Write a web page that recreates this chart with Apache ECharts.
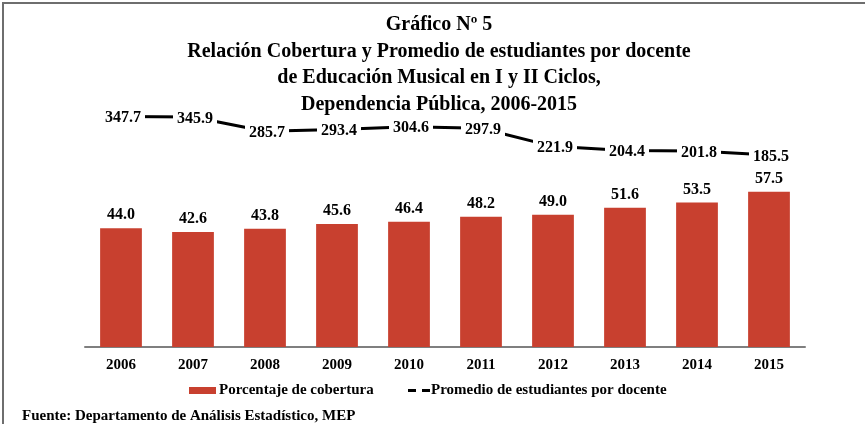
<!DOCTYPE html>
<html>
<head>
<meta charset="utf-8">
<script src="https://cdn.jsdelivr.net/npm/echarts@6/dist/echarts.min.js"></script>
<style>
html,body{margin:0;padding:0;background:#fff;}
#chart{width:865px;height:424px;}
</style>
</head>
<body>
<div id="chart"></div>
<script>
const years = ['2006','2007','2008','2009','2010','2011','2012','2013','2014','2015'];
const cobertura = [44.0, 42.6, 43.8, 45.6, 46.4, 48.2, 49.0, 51.6, 53.5, 57.5];
const promedio = [347.7, 345.9, 285.7, 293.4, 304.6, 297.9, 221.9, 204.4, 201.8, 185.5];
const titleLines = ['Gráfico Nº 5','Relación Cobertura y Promedio de estudiantes por docente','de Educación Musical en I y II Ciclos,','Dependencia Pública, 2006-2015'];
const source = 'Fuente: Departamento de Análisis Estadístico, MEP';
const nameBar = 'Porcentaje de cobertura';
const nameLine = 'Promedio de estudiantes por docente';

const FONT = '"Liberation Serif","Times New Roman",serif';
const chart = echarts.init(document.getElementById('chart'));
chart.setOption({
  animation: false,
  backgroundColor: '#fff',
  title: {
    text: titleLines.join('\n'),
    left: 434, top: 7, textAlign: 'center',
    textStyle: {fontFamily: FONT, fontWeight: 'bold', fontSize: 20, lineHeight: 26.5, color: '#000'}
  },
  graphic: [
    {type:'polyline', shape:{points:[[3,430],[3,3],[870,3]]}, style:{stroke:'#6e6e6e', lineWidth:2, fill:null}},
    {type:'text', left: 22, top: 409, style:{text: source, font: 'bold 15px ' + FONT, fill:'#000'}}
  ],
  legend: [
    {
      left: 184, top: 378, itemWidth: 27, itemHeight: 7,
      textStyle: {fontFamily: FONT, fontWeight: 'bold', fontSize: 15, color: '#000', padding: [0,0,0,-2]},
      data: [{name: nameBar, icon: 'rect'}]
    },
    {
      left: 403, top: 378, itemWidth: 22, itemHeight: 3, itemGap: 0,
      textStyle: {fontFamily: FONT, fontWeight: 'bold', fontSize: 15, color: '#000', padding: [0,0,0,-4]},
      data: [{name: nameLine, icon: 'path://M0,0h8v3h-8zM14,0h8v3h-8z', itemStyle: {color: '#000'}}]
    }
  ],
  grid: [
    {left: 85, width: 720, top: 77, height: 270},
    {left: 85, width: 720, top: 99.4, height: 99.5}
  ],
  xAxis: [
    {type:'category', data: years, gridIndex: 0,
     axisLine:{lineStyle:{color:'#7f7f7f', width:2}}, axisTick:{show:false},
     axisLabel:{fontFamily: FONT, fontWeight:'bold', fontSize:15, color:'#000', margin: 11}},
    {type:'category', data: years, gridIndex: 1, show: false}
  ],
  yAxis: [
    {type:'value', gridIndex:0, min:0, max:100, show:false, splitLine:{show:false}},
    {type:'value', gridIndex:1, min:0, max:420, show:false, splitLine:{show:false}}
  ],
  series: [
    {name: nameBar, type:'bar', data: cobertura, xAxisIndex:0, yAxisIndex:0, barWidth: '58%',
     itemStyle:{color:'#C8402F'},
     label:{show:true, position:'top', distance: 5, formatter: p => p.value.toFixed(1),
       fontFamily: FONT, fontWeight:'bold', fontSize:16, color:'#000'}},
    {name: nameLine, type:'line', data: promedio, xAxisIndex:1, yAxisIndex:1,
     symbol:'circle', symbolSize: 1, showSymbol: true,
     lineStyle:{color:'#000', width:3}, itemStyle:{color:'#000'},
     label:{show:true, position:'top', distance: 0, offset: [2, 11], formatter: p => p.value.toFixed(1),
       backgroundColor:'#fff', padding:[1,4],
       fontFamily: FONT, fontWeight:'bold', fontSize:16, color:'#000'}}
  ]
});
</script>
</body>
</html>
